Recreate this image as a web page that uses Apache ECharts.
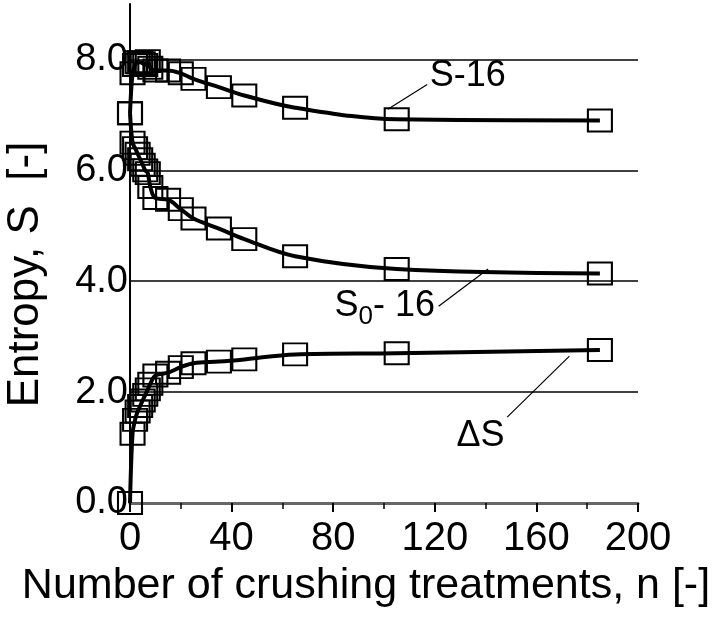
<!DOCTYPE html>
<html>
<head>
<meta charset="utf-8">
<script src="https://cdn.jsdelivr.net/npm/echarts@6/dist/echarts.min.js"></script>
<style>
html,body{margin:0;padding:0;background:#fff;}
#c{width:718px;height:617px;}
</style>
</head>
<body>
<div id="c"></div>
<script>
// number of crushing treatments
const nValues = [0, 1, 2, 3, 4, 5, 6, 7, 8, 10, 15, 20, 25, 35, 45, 65, 105, 185];
// S - 16
const sValues = [7.03, 7.75, 7.9, 7.95, 7.95, 7.93, 7.9, 7.97, 7.85, 7.8, 7.8, 7.75, 7.65, 7.5, 7.35, 7.13, 6.92, 6.9];
// S0 - 16
const s0Values = [7.03, 6.5, 6.4, 6.3, 6.2, 6.1, 6.0, 5.95, 5.7, 5.5, 5.47, 5.3, 5.13, 4.95, 4.76, 4.45, 4.22, 4.14];
// Delta S
const dsValues = [0, 1.25, 1.5, 1.65, 1.75, 1.85, 1.95, 2.05, 2.15, 2.3, 2.35, 2.45, 2.52, 2.55, 2.59, 2.68, 2.7, 2.76];

const xTicks = [0, 40, 80, 120, 160, 200];
const yTicks = [0, 2, 4, 6, 8];

const FONT = '"Liberation Sans", Arial, sans-serif';

function pairs(ys) { return nValues.map((n, i) => [n, ys[i]]); }

function mkSeries(name, ys) {
  return {
    name: name,
    type: 'line',
    data: pairs(ys),
    smooth: 0.35,
    symbol: 'rect',
    symbolSize: [24, 22],
    showAllSymbol: true,
    lineStyle: { color: '#000', width: 4 },
    itemStyle: { color: 'rgba(0,0,0,0)', borderColor: '#000', borderWidth: 2 },
    emphasis: { disabled: true },
    z: 3
  };
}

const chart = echarts.init(document.getElementById('c'), null, { renderer: 'canvas' });
const option = {
  animation: false,
  backgroundColor: '#fff',
  grid: { left: 130, right: 80, top: 4, bottom: 114, containLabel: false, outerBoundsMode: 'none' },
  xAxis: {
    type: 'value',
    min: 0, max: 200, interval: 40,
    name: 'Number of crushing treatments, n [-]',
    nameLocation: 'middle',
    nameGap: 62,
    nameTextStyle: { fontFamily: FONT, fontSize: 43, color: '#000', padding: [0, 36, 0, 0] },
    axisLine: { lineStyle: { color: '#666', width: 3 } },
    axisTick: { show: true, length: 9, lineStyle: { color: '#000', width: 2 } },
    minorTick: { show: true, splitNumber: 2, length: 6, lineStyle: { color: '#000', width: 1.5 } },
    axisLabel: { fontFamily: FONT, fontSize: 40, color: '#000', margin: 16,
      formatter: v => xTicks.includes(v) ? String(v) : '' },
    splitLine: { show: false }
  },
  yAxis: {
    type: 'value',
    min: 0, max: 9, interval: 2,
    name: 'Entropy, S  [-]',
    nameLocation: 'middle',
    nameGap: 82,
    nameTextStyle: { fontFamily: FONT, fontSize: 44, color: '#000', padding: [0, 42, 0, 0] },
    axisLine: { show: true, lineStyle: { color: '#000', width: 2 } },
    axisTick: { show: false },
    axisLabel: { fontFamily: FONT, fontSize: 38, color: '#000', margin: 2, showMaxLabel: false,
      formatter: v => yTicks.includes(v) ? v.toFixed(1) : '' },
    splitLine: { show: true, showMaxLine: false, showMinLine: false, lineStyle: { color: '#000', width: 1.5 } }
  },
  series: [
    mkSeries('S-16', sValues),
    mkSeries('S0-16', s0Values),
    mkSeries('dS', dsValues)
  ]
};
chart.setOption(option);

// annotations anchored in data coordinates
function px(x, y) { return chart.convertToPixel({ gridIndex: 0 }, [x, y]); }
function leader(a, b) {
  const p = px(a[0], a[1]), q = px(b[0], b[1]);
  return { type: 'line', shape: { x1: p[0], y1: p[1], x2: q[0], y2: q[1] }, style: { stroke: '#000', lineWidth: 1.2 }, z: 10 };
}
function label(pos, text, rich) {
  const p = px(pos[0], pos[1]);
  return { type: 'text', x: p[0], y: p[1], z: 10,
    style: { text: text, fontFamily: FONT, fontSize: 36, fill: '#000', textAlign: 'left', textVerticalAlign: 'middle', rich: rich } };
}
chart.setOption({
  graphic: [
    leader([101.5, 7.1], [117, 7.55]),
    label([118, 7.7], 'S-16'),
    leader([141, 4.22], [121.5, 3.55]),
    label([80.5, 3.55], '{m|S}{s|0}{m|- 16}', {
      m: { fontFamily: FONT, fontSize: 36, fill: '#000' },
      s: { fontFamily: FONT, fontSize: 26, fill: '#000', padding: [22, 0, 0, 0] }
    }),
    leader([173, 2.65], [148.5, 1.55]),
    label([128.5, 1.2], '\u0394S')
  ]
});
</script>
</body>
</html>
